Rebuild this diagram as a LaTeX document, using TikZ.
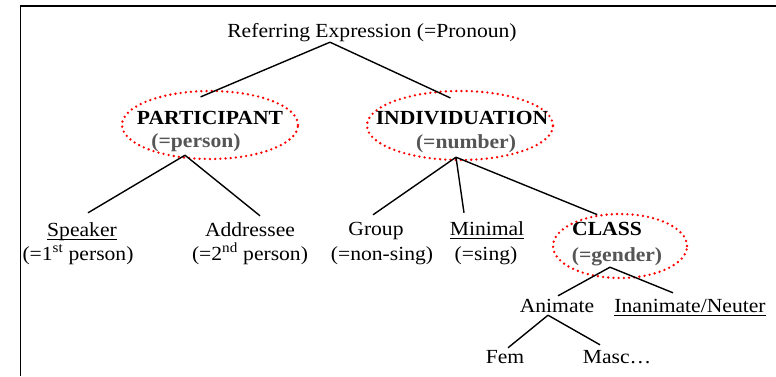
\documentclass[tikz,border=0pt]{standalone}
\usepackage{fontspec}
\setmainfont{Liberation Serif}[FakeStretch=1.08]
\usetikzlibrary{shapes.geometric}
\definecolor{subgray}{RGB}{85,85,85}
\newcommand{\undl}[1]{\leavevmode\setbox0\hbox{#1}\rlap{\vrule height -2.6pt depth 3.9pt width \wd0}\box0}
\tikzset{
  lbl/.style={anchor=base, inner sep=0pt, text height=13pt, text depth=5pt, font=\fontsize{20}{23}\selectfont},
  head/.style={lbl, font=\fontsize{20}{23}\selectfont\bfseries},
  sub/.style={lbl, text=subgray, font=\fontsize{20}{23}\selectfont\bfseries},
  ring/.style={ellipse, draw=red, line width=2.6pt, line cap=round, dash pattern=on 0pt off 5.2pt, inner sep=0pt},
  branch/.style={line width=1.4pt},
}
\begin{document}
\begin{tikzpicture}[x=1pt, y=-1pt]
    \useasboundingbox (0,0) rectangle (776,376);
    \draw[line width=1.6pt] (20.5,376) -- (20.5,6) -- (776,6);

    \node[lbl] (root) at (372,37) {Referring Expression (=Pronoun)};

    \node[ring, minimum width=176pt, minimum height=68pt] (partE) at (210,125) {};
    \node[head] (part) at (210,124) {PARTICIPANT};
    \node[sub] (partS) at (196,147) {(=person)};

    \node[ring, minimum width=186pt, minimum height=69pt] (indivE) at (460,125.5) {};
    \node[head] (indiv) at (462,124) {INDIVIDUATION};
    \node[sub] (indivS) at (466,148) {(=number)};

    \node[lbl] (spk) at (82,236) {\undl{Speaker}};
    \node[lbl] (spkS) at (78,260) {(=1\textsuperscript{st} person)};
    \node[lbl] (addr) at (250,236) {Addressee};
    \node[lbl] (addrS) at (250,260) {(=2\textsuperscript{nd} person)};
    \node[lbl] (grp) at (376,235) {Group};
    \node[lbl] (grpS) at (382,260) {(=non-sing)};
    \node[lbl] (mini) at (487,235) {\undl{Minimal}};
    \node[lbl] (miniS) at (486,260) {(=sing)};

    \node[ring, minimum width=134pt, minimum height=64pt] (classE) at (620,246) {};
    \node[head] (class) at (607,235) {CLASS};
    \node[sub] (classS) at (617,261) {(=gender)};

    \node[lbl] (anim) at (557,312) {Animate};
    \node[lbl] (inan) at (690,312) {\undl{Inanimate/Neuter}};
    \node[lbl] (fem) at (505,363) {Fem};
    \node[lbl] (masc) at (617,363) {Masc\ldots};

    \draw[branch] ([xshift=-42pt]root.south) -- ([yshift=-7pt]partE.105)
                  ([xshift=-42pt]root.south) -- ([xshift=2pt,yshift=-8pt]indivE.108);
    \draw[branch] ([xshift=-11pt,yshift=-3pt]partS.south) -- ([xshift=6pt,yshift=10pt]spk.north)
                  ([xshift=-11pt,yshift=-3pt]partS.south) -- ([xshift=10pt,yshift=7pt]addr.north);
    \draw[branch] ([xshift=-10pt,yshift=-4pt]indivS.south) -- ([xshift=-3pt,yshift=7pt]grp.north)
                  ([xshift=-10pt,yshift=-4pt]indivS.south) -- ([xshift=-23pt,yshift=9pt]mini.north)
                  ([xshift=-10pt,yshift=-4pt]indivS.south) -- (classE.126);
    \draw[branch] ([xshift=-7pt,yshift=-1pt]classS.south) -- ([xshift=1pt,yshift=3pt]anim.north)
                  ([xshift=-7pt,yshift=-1pt]classS.south) -- ([xshift=-17pt,yshift=6pt]inan.north);
    \draw[branch] ([xshift=-9pt,yshift=2pt]anim.south) -- ([xshift=3pt,yshift=2pt]fem.north)
                  ([xshift=-9pt,yshift=2pt]anim.south) -- ([xshift=-17pt,yshift=5pt]masc.north);
\end{tikzpicture}
\end{document}
